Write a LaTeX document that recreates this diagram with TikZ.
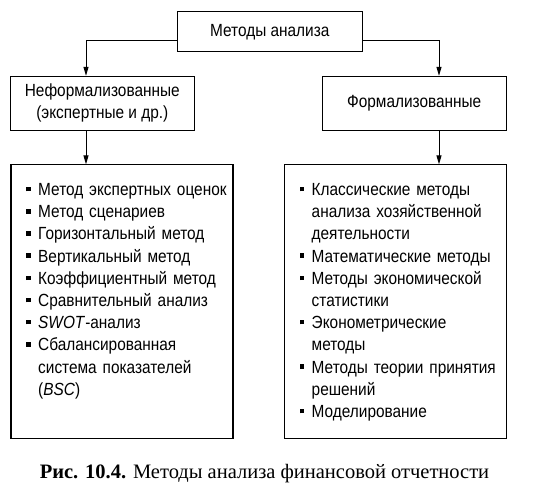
\documentclass[tikz,border=0pt]{standalone}
\usepackage{fontspec}
\setmainfont{Liberation Sans}[FakeStretch=0.875]
\newfontfamily\podpisfont{Liberation Serif}
\usetikzlibrary{positioning,arrows.meta}

% one list entry with a square bullet and hanging lines
\newcommand{\punkt}[1]{\leftskip=15.4pt\hangindent=11.8pt\hangafter=1%
  \leavevmode\makebox[11.8pt][l]{\rule[4.2pt]{4.5pt}{4.5pt}}#1\par}

\begin{document}
\begin{tikzpicture}[
                font=\fontsize{17.6pt}{22.2pt}\selectfont,
                box/.style={draw, line width=1.1pt, align=center},
                spisok/.style={draw, line width=1.1pt, text width=222pt, inner xsep=0pt, inner ysep=0pt,
                    align=left, text height=30.6pt, text depth=242.7pt},
                arr/.style={-{Triangle[length=9pt,width=5pt]}, line width=1pt}
            ]
                \useasboundingbox (0,0) rectangle (536pt,-495pt);

                % Top: the root
                \node[box, minimum width=185pt, minimum height=40pt] (metody) at (269.8pt,-31.7pt) {Методы анализа};

                % Two groups
                \node[box, minimum width=184pt, minimum height=53.7pt, below=23.6pt of metody, xshift=-167.5pt] (neform)
                    {Неформализованные\\(экспертные и др.)};
                \node[box, minimum width=184pt, minimum height=53.7pt, below=23.6pt of metody, xshift=144.4pt] (form)
                    {Формализованные};

                \draw[arr] ([yshift=-8.6pt]metody.west) -| ([xshift=-16.3pt]neform.north);
                \draw[arr] ([yshift=-8.6pt]metody.east) -| ([xshift=24.8pt]form.north);

                % Lists
                \node[spisok, below=33.7pt of neform, xshift=19.7pt] (spisokL) {%
                    \punkt{Метод экспертных оценок}
                    \punkt{Метод сценариев}
                    \punkt{Горизонтальный метод}
                    \punkt{Вертикальный метод}
                    \punkt{Коэффициентный метод}
                    \punkt{Сравнительный анализ}
                    \punkt{\textit{SWOT}-анализ}
                    \punkt{Сбалансированная\newline система показателей\newline (\textit{BSC})}};
                \node[spisok, below=33.7pt of form, xshift=-18.7pt] (spisokR) {%
                    \punkt{Классические методы\newline анализа хозяйственной\newline деятельности}
                    \punkt{Математические методы}
                    \punkt{Методы экономической\newline статистики}
                    \punkt{Эконометрические\newline методы}
                    \punkt{Методы теории принятия\newline решений}
                    \punkt{Моделирование}};

                \draw[arr] ([xshift=-16.3pt]neform.south) -- ([xshift=-16.3pt]neform.south |- spisokL.north);
                \draw[arr] ([xshift=24.8pt]form.south) -- ([xshift=24.8pt]form.south |- spisokR.north);

                % Caption
                \node[anchor=base, font=\podpisfont\fontsize{20.5pt}{25pt}\selectfont] (podpis) at (264.5pt,-478.8pt)
                    {\textbf{Рис. 10.4.} Методы анализа финансовой отчетности};
            \end{tikzpicture}
\end{document}
